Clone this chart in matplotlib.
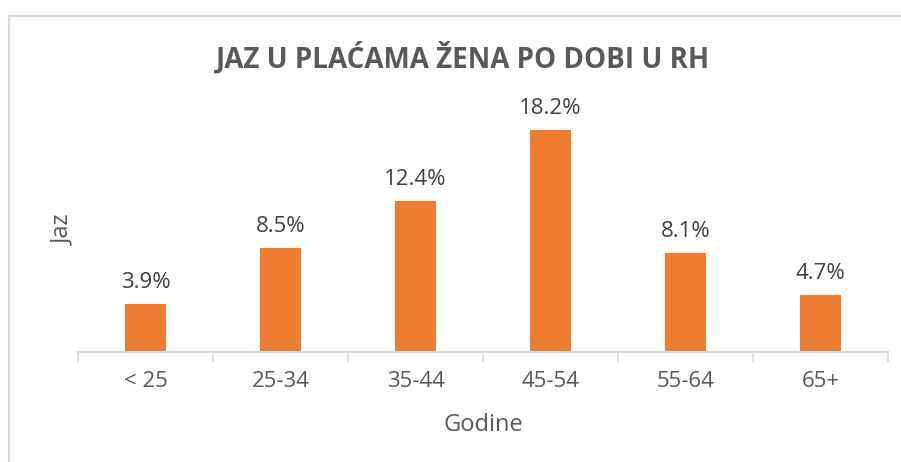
import numpy as np
import matplotlib.pyplot as plt
from matplotlib.lines import Line2D

categories = ['< 25', '25-34', '35-44', '45-54', '55-64', '65+']
values = [3.9, 8.5, 12.4, 18.2, 8.1, 4.7]

plt.rcParams['font.family'] = ['Open Sans', 'DejaVu Sans']

fig = plt.figure(figsize=(9.01, 4.62), dpi=100)
ax = fig.add_axes([78 / 901, 110 / 462, 810 / 901, 244 / 462])

x = np.arange(len(categories))
bars = ax.bar(x, values, width=0.31, color='#ED7D31', zorder=2)

for xi, v in zip(x, values):
    ax.annotate(f'{v:.1f}%', (xi, v), xytext=(0, 8), textcoords='offset points',
                ha='center', va='bottom', fontsize=16, color='#404040')

ax.set_xlim(-0.5, len(categories) - 0.5)
ax.set_ylim(0, 20)
ax.set_yticks([])
ax.set_xticks(x)
ax.set_xticklabels(categories, fontsize=16, color='#595959')
ax.tick_params(axis='x', length=0, pad=14)
# boundary ticks
ax.set_xticks(np.arange(-0.5, len(categories)), minor=True)
ax.tick_params(axis='x', which='minor', length=7, width=1.2, color='#D9D9D9')

for s in ['top', 'right', 'left']:
    ax.spines[s].set_visible(False)
ax.spines['bottom'].set_color('#D9D9D9')
ax.spines['bottom'].set_linewidth(1.5)

ax.set_xlabel('Godine', fontsize=17, color='#595959', labelpad=15)
ax.set_ylabel('Jaz', fontsize=17, color='#595959', labelpad=2)

fig.text(462 / 901, 1 - 68 / 462, 'JAZ U PLAĆAMA ŽENA PO DOBI U RH', ha='center', va='baseline',
         fontsize=20, fontweight='bold', color='#595959')

# chart area border (left and top only visible)
fig.add_artist(Line2D([8.5 / 901, 8.5 / 901], [0, 1 - 15.5 / 462], transform=fig.transFigure,
                      color='#D9D9D9', lw=1.5))
fig.add_artist(Line2D([8.5 / 901, 1], [1 - 15.5 / 462, 1 - 15.5 / 462], transform=fig.transFigure,
                      color='#D9D9D9', lw=1.5))

fig.savefig('out.png', dpi=100)
